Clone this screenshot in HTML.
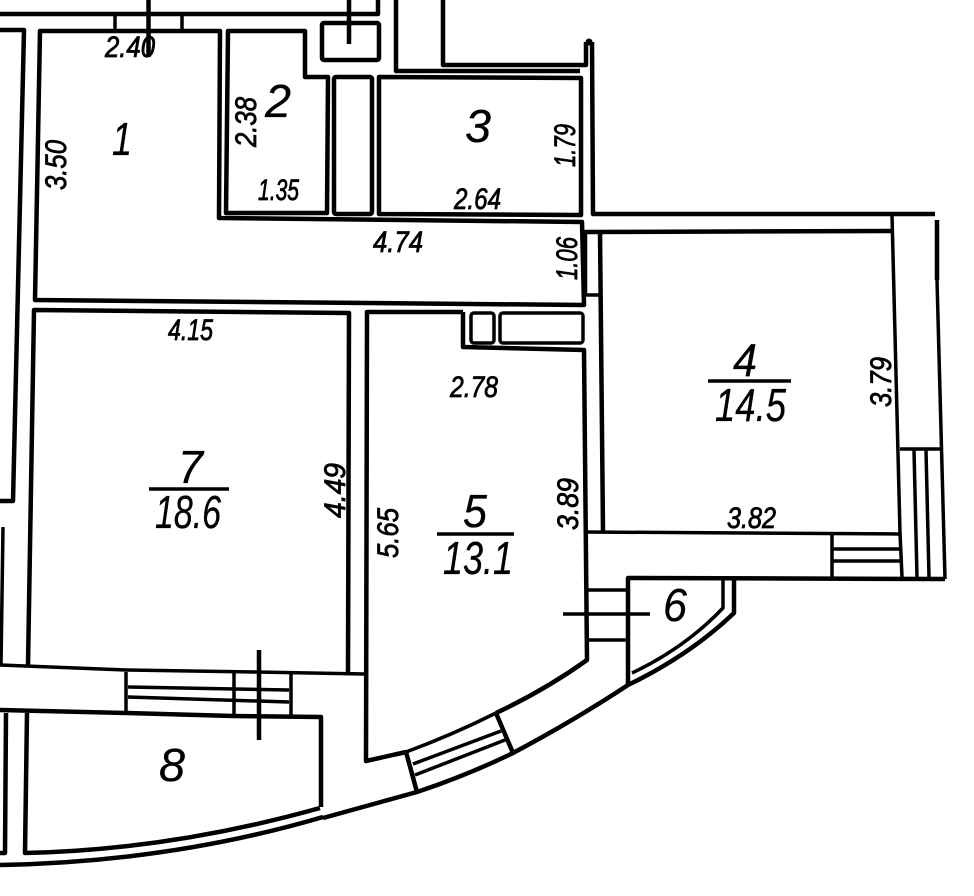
<!DOCTYPE html>
<html>
<head>
<meta charset="utf-8">
<style>
html,body{margin:0;padding:0;background:#fff;width:974px;height:896px;overflow:hidden}
svg{display:block}
text{font-family:"Liberation Sans",sans-serif;font-style:italic;fill:#000;stroke:#000}
.d{font-size:30px;stroke-width:.8px}
.b{font-size:46px;stroke-width:.3px}
path,line,polyline,polygon,rect.o{fill:none;stroke:#000;stroke-linejoin:round}
.t{stroke-width:4.5}
.m{stroke-width:3.5}
</style>
</head>
<body>
<svg width="974" height="896" viewBox="0 0 974 896" xmlns="http://www.w3.org/2000/svg">
<rect width="974" height="896" fill="#fff"/>

<!-- top and left walls -->
<polyline class="t" points="0,14 378,14 378,0"/>
<polyline class="t" points="0,30 24,30 13,501 0,501"/>
<polyline class="m" points="3,527 1,665"/>
<line class="m" x1="115" y1="14" x2="115" y2="31"/>
<line class="m" x1="182" y1="14" x2="182" y2="31"/>
<line class="t" x1="148.500" y1="0" x2="148.500" y2="57"/>
<rect class="o t" x="322" y="23" width="57" height="37" rx="2"/>
<line class="t" x1="349" y1="0" x2="349" y2="44"/>
<polyline class="t" points="396,0 396,71 580,71"/>
<polyline class="t" points="443,0 443,65 586,65 586,42"/>
<polyline class="t" points="592,42 593,214 935,214"/>
<circle cx="589" cy="42" r="3.500" fill="#000"/>

<!-- rooms 1,2,3 -->
<polygon class="t" points="40,31 220,31 219,218 582,222 584,305 35,300"/>
<polygon class="t" points="228,31 305,31 305,77 328,77 327,213 226,213"/>
<rect class="o t" x="334" y="77" width="38" height="137" rx="2"/>
<polygon class="t" points="379,77 581,78 581,215 379,214"/>

<!-- room 7 -->
<polyline class="t" points="28,665 34,310 349,313 348,672"/>

<!-- wall lines bottom -->
<polyline class="m" points="0,665 126,670 256,672 365,674"/>
<polyline class="t" points="0,710 126,713 233,716 321,717 321,807"/>
<line class="m" x1="126" y1="672" x2="126" y2="712"/>
<line class="m" x1="234" y1="673" x2="234" y2="716"/>
<line class="m" x1="291" y1="673" x2="291" y2="717"/>
<line class="m" x1="128" y1="687" x2="289" y2="690"/>
<line class="m" x1="128" y1="697" x2="289" y2="702"/>
<line class="t" x1="259" y1="650" x2="259" y2="740"/>

<!-- room 8 -->
<polyline class="t" points="6,713 5,853 0,853"/>
<path class="t" d="M27,713 L25,853 Q170,850 320,808"/>
<path class="t" d="M0,865 Q170,862 323,817"/>

<!-- room 5 -->
<polyline class="t" points="463,312 367,312 366,761 406,752"/>
<path class="m" d="M406,752 Q452,735 496,713"/>
<path class="t" d="M496,713 Q545,690 587,660 L584,350 463,347 463,312"/>
<rect class="o m" x="471" y="313" width="23" height="30" rx="3"/>
<rect class="o m" x="500" y="313" width="83" height="30" rx="3"/>

<!-- window room 5 -->
<line class="t" x1="406" y1="752" x2="417" y2="792"/>
<line class="t" x1="496" y1="713" x2="513" y2="753"/>
<line class="m" x1="413" y1="764" x2="501" y2="731"/>
<line class="m" x1="415" y1="775" x2="505" y2="740"/>
<path class="t" d="M323,818 L417,792 Q468,775 513,753 Q575,720 628,685"/>

<!-- room 4 -->
<polyline class="t" points="585,295 585,232 892,231"/>
<line class="m" x1="585" y1="295" x2="600" y2="295"/>
<polyline class="t" points="600,232 603,532"/>
<polyline class="m" points="892,215 900,533"/>
<polyline class="m" points="586,532 900,534"/>
<polyline class="t" points="937,220 937,280"/>
<polyline class="m" points="937,280 945,579"/>
<polyline class="m" points="900,533 902,577"/>
<line class="m" x1="900" y1="449" x2="941" y2="449"/>
<line class="m" x1="914" y1="450" x2="917" y2="577"/>
<line class="m" x1="926" y1="450" x2="929" y2="577"/>
<line class="m" x1="832" y1="534" x2="832" y2="578"/>
<line class="m" x1="832" y1="549" x2="900" y2="549"/>
<line class="m" x1="832" y1="561" x2="900" y2="561"/>

<!-- room 6 -->
<polyline class="t" points="945,579 628,578 628,685"/>
<line class="m" x1="587" y1="590" x2="628" y2="590"/>
<line class="m" x1="587" y1="640" x2="628" y2="640"/>
<line class="m" x1="563" y1="614" x2="650" y2="614"/>
<path class="m" d="M723,580 L723,608 Q685,648 632,673"/>
<path class="t" d="M734,580 L734,613 Q690,655 628,685"/>

<!-- fractions -->
<line class="m" x1="708" y1="381" x2="791" y2="381"/>
<line class="m" x1="149" y1="489" x2="229" y2="489"/>
<line class="m" x1="437" y1="534" x2="514" y2="534"/>

<!-- dimension labels -->
<text class="d" x="105" y="57" textLength="50" lengthAdjust="spacingAndGlyphs">2.40</text>
<text class="d" x="258" y="200" textLength="41" lengthAdjust="spacingAndGlyphs">1.35</text>
<text class="d" x="454" y="209" textLength="47" lengthAdjust="spacingAndGlyphs">2.64</text>
<text class="d" x="373" y="252" textLength="50" lengthAdjust="spacingAndGlyphs">4.74</text>
<text class="d" x="168" y="340" textLength="45" lengthAdjust="spacingAndGlyphs">4.15</text>
<text class="d" x="450" y="397" textLength="48" lengthAdjust="spacingAndGlyphs">2.78</text>
<text class="d" x="727" y="528" textLength="49" lengthAdjust="spacingAndGlyphs">3.82</text>

<text class="d" transform="translate(256,147) rotate(-90)" textLength="50" lengthAdjust="spacingAndGlyphs">2.38</text>
<text class="d" transform="translate(66,190) rotate(-90)" textLength="50" lengthAdjust="spacingAndGlyphs">3.50</text>
<text class="d" transform="translate(575,167) rotate(-90)" textLength="43" lengthAdjust="spacingAndGlyphs">1.79</text>
<text class="d" transform="translate(577,280) rotate(-90)" textLength="43" lengthAdjust="spacingAndGlyphs">1.06</text>
<text class="d" transform="translate(891,407) rotate(-90)" textLength="50" lengthAdjust="spacingAndGlyphs">3.79</text>
<text class="d" transform="translate(578,530) rotate(-90)" textLength="52" lengthAdjust="spacingAndGlyphs">3.89</text>
<text class="d" transform="translate(345,518) rotate(-90)" textLength="55" lengthAdjust="spacingAndGlyphs">4.49</text>
<text class="d" transform="translate(398,558) rotate(-90)" textLength="50" lengthAdjust="spacingAndGlyphs">5.65</text>

<!-- room numbers -->
<text class="b" x="112" y="155" textLength="20" lengthAdjust="spacingAndGlyphs">1</text>
<text class="b" x="265" y="117" textLength="26" lengthAdjust="spacingAndGlyphs">2</text>
<text class="b" x="465" y="142" textLength="26" lengthAdjust="spacingAndGlyphs">3</text>
<text class="b" x="733" y="376" textLength="24" lengthAdjust="spacingAndGlyphs">4</text>
<text class="b" x="715" y="421" textLength="71" lengthAdjust="spacingAndGlyphs">14.5</text>
<text class="b" x="178" y="483" textLength="25" lengthAdjust="spacingAndGlyphs">7</text>
<text class="b" x="155" y="528" textLength="66" lengthAdjust="spacingAndGlyphs">18.6</text>
<text class="b" x="463" y="527" textLength="24" lengthAdjust="spacingAndGlyphs">5</text>
<text class="b" x="443" y="574" textLength="70" lengthAdjust="spacingAndGlyphs">13.1</text>
<text class="b" x="663" y="621" textLength="24" lengthAdjust="spacingAndGlyphs">6</text>
<text class="b" x="159" y="781" textLength="26" lengthAdjust="spacingAndGlyphs">8</text>
</svg>
</body>
</html>
